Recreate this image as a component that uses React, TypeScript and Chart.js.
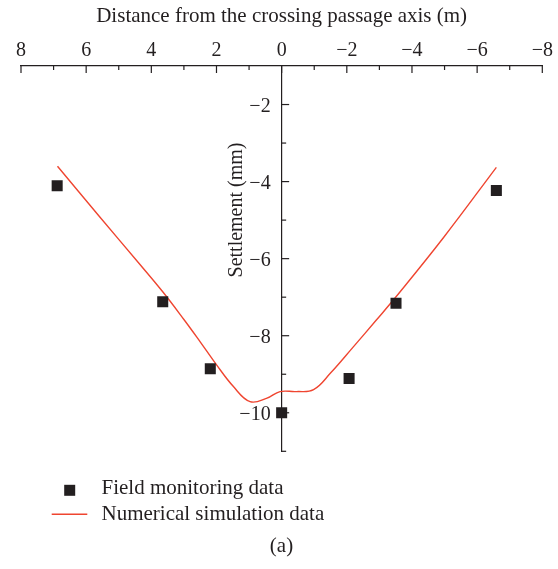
import React, { useEffect, useRef } from 'react';
import { Chart, registerables } from 'chart.js';

Chart.register(...registerables);

// ---- data ----
const fieldX = [6.89, 3.65, 2.19, 0, -2.07, -3.51, -6.59];
const fieldY = [-4.11, -7.12, -8.86, -10.0, -9.11, -7.16, -4.23];

const simX = [6.88, 5.6, 4.4, 3.65, 3.0, 2.5, 2.02, 1.48, 0.97, 0.45, 0.05, -0.45, -0.98, -1.5, -2.2, -2.9, -3.51, -4.97, -6.59];
const simY = [-3.6, -4.9, -6.1, -6.86, -7.58, -8.16, -8.73, -9.32, -9.71, -9.62, -9.45, -9.45, -9.4, -8.97, -8.29, -7.6, -6.99, -5.45, -3.63];

const xMajorTicks = [8, 6, 4, 2, 0, -2, -4, -6, -8];
const xMinorTicks = [7, 5, 3, 1, -1, -3, -5, -7];
const yMajorTicks = [-2, -4, -6, -8, -10];
const yMinorTicks = [-3, -5, -7, -9, -11];

const xTitle = 'Distance from the crossing passage axis (m)';
const yTitle = 'Settlement (mm)';
const seriesNames = ['Field monitoring data', 'Numerical simulation data'];
const caption = '(a)';

const INK = '#231f20';
const RED = '#ef4530';
const FONT = '"Liberation Serif", "DejaVu Serif", serif';

const fmt = (v: number) => (v < 0 ? '\u2212' + Math.abs(v) : String(v));

const decor = {
  id: 'decor',
  afterDraw(chart: any) {
    const { ctx, chartArea } = chart;
    const xs = chart.scales.x;
    const ys = chart.scales.y;
    const x0 = xs.getPixelForValue(0);
    ctx.save();
    ctx.strokeStyle = INK;
    ctx.lineWidth = 1.2;
    const seg = (a: number, b: number, c: number, d: number) => {
      ctx.beginPath();
      ctx.moveTo(a, b);
      ctx.lineTo(c, d);
      ctx.stroke();
    };
    for (const v of xMajorTicks) {
      const px = xs.getPixelForValue(v);
      seg(px, chartArea.top, px, chartArea.top + 7);
    }
    for (const v of xMinorTicks) {
      const px = xs.getPixelForValue(v);
      seg(px, chartArea.top, px, chartArea.top + 4);
    }
    for (const v of yMajorTicks) {
      const py = ys.getPixelForValue(v);
      seg(x0, py, x0 + 7.5, py);
    }
    for (const v of yMinorTicks) {
      const py = ys.getPixelForValue(v);
      seg(x0, py, x0 + 4.5, py);
    }
    // y tick labels
    ctx.fillStyle = INK;
    ctx.font = `20px ${FONT}`;
    ctx.textAlign = 'right';
    ctx.textBaseline = 'alphabetic';
    for (const v of yMajorTicks) {
      const py = ys.getPixelForValue(v);
      ctx.fillText(fmt(v), x0 - 11, py + 7);
    }
    // y title
    ctx.save();
    ctx.font = `20px ${FONT}`;
    ctx.translate(241.5, 210);
    ctx.rotate(-Math.PI / 2);
    ctx.textAlign = 'center';
    ctx.textBaseline = 'alphabetic';
    ctx.fillText(yTitle, 0, 0);
    ctx.restore();
    // legend
    ctx.font = `21px ${FONT}`;
    ctx.textAlign = 'left';
    ctx.textBaseline = 'alphabetic';
    ctx.fillStyle = INK;
    ctx.fillRect(64.2, 484.8, 11, 11);
    ctx.fillText(seriesNames[0], 101.5, 494);
    ctx.strokeStyle = RED;
    ctx.lineWidth = 1.4;
    seg(51.7, 514.3, 87.3, 514.3);
    ctx.fillText(seriesNames[1], 101.5, 520);
    // caption
    ctx.textAlign = 'center';
    ctx.fillText(caption, 281.5, 552);
    ctx.restore();
  },
};

export default function App() {
  const ref = useRef<HTMLCanvasElement | null>(null);
  useEffect(() => {
    if (!ref.current) return;
    const chart = new Chart(ref.current, {
      type: 'scatter',
      data: {
        datasets: [
          {
            label: seriesNames[0],
            data: fieldX.map((x, i) => ({ x, y: fieldY[i] })),
            pointStyle: 'rect',
            pointRadius: 7.8,
            pointHoverRadius: 7.8,
            pointBackgroundColor: INK,
            pointBorderWidth: 0,
            showLine: false,
          },
          {
            label: seriesNames[1],
            data: simX.map((x, i) => ({ x, y: simY[i] })),
            showLine: true,
            borderColor: RED,
            borderWidth: 1.4,
            pointRadius: 0,
            pointHoverRadius: 0,
            tension: 0.4,
            fill: false,
          },
        ],
      } as any,
      options: {
        responsive: false,
        animation: false,
        events: [],
        layout: { padding: { left: 21, right: 15.7, top: 0, bottom: 117.7 } },
        plugins: { legend: { display: false }, tooltip: { enabled: false } },
        scales: {
          x: {
            type: 'linear',
            position: 'top',
            min: -8,
            max: 8,
            reverse: true,
            grid: { display: false, drawTicks: false },
            border: { display: true, color: INK, width: 1.2 },
            afterBuildTicks: (s: any) => {
              s.ticks = xMajorTicks.map((v) => ({ value: v }));
            },
            afterFit: (s: any) => {
              s.height = 66;
            },
            ticks: {
              color: INK,
              padding: 3,
              maxRotation: 0,
              autoSkip: false,
              font: { family: FONT, size: 20 },
              callback: (v: any) => fmt(Number(v)),
            },
            title: {
              display: true,
              text: xTitle,
              color: INK,
              font: { family: FONT, size: 21 },
              padding: { top: 3.4, bottom: 0 },
            },
          },
          y: {
            type: 'linear',
            position: { x: 0 },
            min: -11,
            max: -1,
            grid: { display: false, drawTicks: false },
            border: { display: true, color: INK, width: 1.2 },
            ticks: { display: false },
          },
        },
      } as any,
      plugins: [decor],
    });
    return () => chart.destroy();
  }, []);
  return (
    <div style={{ position: 'fixed', left: 0, top: 0, width: 558, height: 569, background: '#fff' }}>
      <canvas ref={ref} width={558} height={569} style={{ display: 'block' }} />
    </div>
  );
}
